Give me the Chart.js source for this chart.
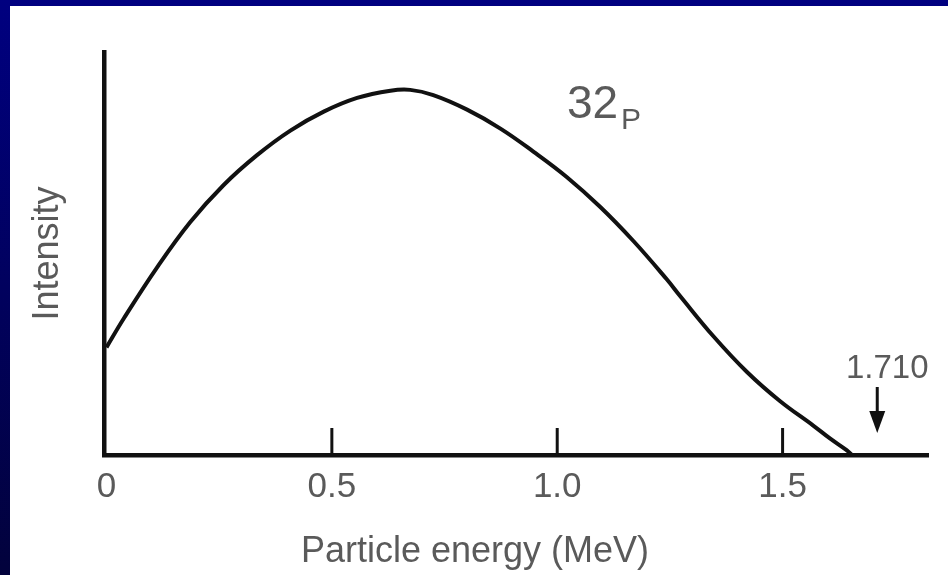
<!DOCTYPE html>
<html>
<head>
<meta charset="utf-8">
<script src="https://cdn.jsdelivr.net/npm/chart.js@4/dist/chart.umd.min.js"></script>
<style>
	html, body {
		margin: 0;
		width: 948px;
		height: 575px;
		overflow: hidden;
		background: linear-gradient(#000080, #02023c);
	}
	#panel {
		position: absolute;
		left: 10px;
		top: 6px;
		width: 938px;
		height: 569px;
		background: #fff;
	}
</style>
</head>
<body>
<div id="panel"><canvas id="myChart"></canvas></div>
<script>
// beta spectrum of 32P
const energy = [0.000, 0.038, 0.112, 0.186, 0.260, 0.334, 0.408, 0.482, 0.556, 0.630, 0.674, 0.725, 0.800, 0.874, 0.947, 1.021, 1.095, 1.169, 1.243, 1.273, 1.347, 1.421, 1.494, 1.568, 1.605, 1.642, 1.654];
const intensity = [0.267, 0.338, 0.465, 0.578, 0.670, 0.744, 0.805, 0.852, 0.886, 0.904, 0.906, 0.893, 0.857, 0.810, 0.753, 0.690, 0.616, 0.531, 0.436, 0.394, 0.294, 0.206, 0.134, 0.073, 0.041, 0.012, 0.000];
const xTicks = [0, 0.5, 1.0, 1.5];
const xTickLabels = ['0', '0.5', '1.0', '1.5'];
const endPoint = 1.710;
const endPointLabel = '1.710';
const nuclide = '32';
const nuclideSub = 'P';
const xTitle = 'Particle energy (MeV)';
const yTitle = 'Intensity';

const ink = '#111';
const grey = '#5a5a5a';
const family = "'Liberation Sans', Arial, sans-serif";

// inward tick marks, the endpoint arrow and the loose labels
const extras = {
	id: 'extras',
	afterDraw(chart) {
		const { ctx, chartArea } = chart;
		const x = chart.scales.x;
		const base = chartArea.bottom;
		ctx.save();
		ctx.strokeStyle = ink;
		ctx.lineWidth = 3;
		xTicks.filter(v => v > 0).forEach(v => {
			const px = x.getPixelForValue(v);
			ctx.beginPath();
			ctx.moveTo(px, base);
			ctx.lineTo(px, base - 27);
			ctx.stroke();
		});

		const ax = x.getPixelForValue(endPoint);
		ctx.lineWidth = 3;
		ctx.beginPath();
		ctx.moveTo(ax, base - 68);
		ctx.lineTo(ax, base - 35);
		ctx.stroke();
		ctx.fillStyle = ink;
		ctx.beginPath();
		ctx.moveTo(ax - 8, base - 44);
		ctx.lineTo(ax + 8, base - 44);
		ctx.lineTo(ax, base - 22);
		ctx.closePath();
		ctx.fill();

		ctx.fillStyle = grey;
		ctx.textBaseline = 'alphabetic';
		ctx.textAlign = 'left';
		ctx.font = '33px ' + family;
		ctx.fillText(endPointLabel, 836, 372);

		ctx.font = '46px ' + family;
		ctx.fillText(nuclide, 557, 112);
		ctx.font = '30px ' + family;
		ctx.fillText(nuclideSub, 611, 123);

		ctx.textAlign = 'center';
		ctx.font = '36px ' + family;
		ctx.fillText(xTitle, 465, 556);
		ctx.restore();
	},
};

new Chart(document.getElementById('myChart'), {
	type: 'line',
	data: {
		datasets: [{
			data: energy.map((e, i) => ({ x: e, y: intensity[i] })),
			borderColor: ink,
			borderWidth: 4,
			pointRadius: 0,
			tension: 0.4,
			fill: false,
			clip: false,
		}],
	},
	options: {
		responsive: true,
		maintainAspectRatio: false,
		animation: false,
		layout: { padding: { top: 46, right: 20, left: 0, bottom: 0 } },
		plugins: {
			legend: { display: false },
			tooltip: { enabled: false },
		},
		scales: {
			x: {
				type: 'linear',
				min: -0.0055,
				max: 1.8226,
				afterFit(scale) { scale.height = 120; },
				afterBuildTicks(scale) { scale.ticks = xTicks.map(v => ({ value: v })); },
				grid: { display: false, drawTicks: false },
				border: { display: true, color: ink, width: 4.5 },
				ticks: {
					padding: 11,
					maxRotation: 0,
					autoSkip: false,
					color: grey,
					font: { family, size: 35 },
					callback: v => xTickLabels[xTicks.indexOf(v)],
				},
			},
			y: {
				min: 0,
				max: 1,
				afterFit(scale) { scale.width = 94; },
				grid: { display: false, drawTicks: false },
				border: { display: true, color: ink, width: 4.5 },
				ticks: { display: false },
				title: {
					display: true,
					text: yTitle,
					color: grey,
					font: { family, size: 36 },
					padding: { top: 16, bottom: 0 },
				},
			},
		},
	},
	plugins: [extras],
});
</script>
</body>
</html>
